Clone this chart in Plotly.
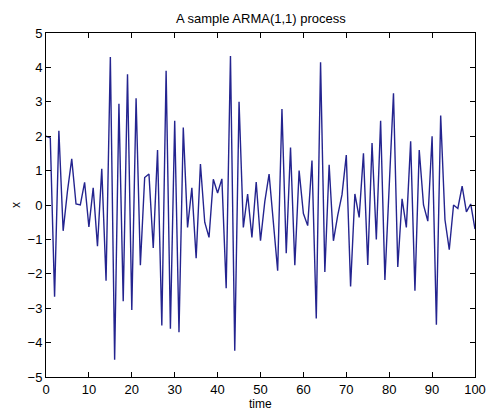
import plotly.graph_objects as go

time = list(range(0, 101))
x_values = [
    2.0, 1.95, -2.67, 2.16, -0.75, 0.4, 1.34, 0.03, 0.0, 0.66,
    -0.64, 0.5, -1.2, 1.05, -2.2, 4.3, -4.5, 2.94, -2.8, 3.8,
    -3.05, 3.1, -1.75, 0.8, 0.9, -1.25, 1.6, -3.5, 3.9, -3.6,
    2.45, -3.7, 2.25, -0.65, 0.5, -1.55, 1.19, -0.5, -0.94, 0.75,
    0.35, 0.76, -2.42, 4.33, -4.24, 3.0, -0.65, 0.32, -0.94, 0.67,
    -1.04, 0.1, 0.9, -0.6, -1.91, 2.79, -1.4, 1.67, -1.75, 1.0,
    -0.25, -0.6, 1.29, -3.3, 4.15, -1.95, 1.17, -1.04, -0.3, 0.3,
    1.45, -2.37, 0.32, -0.36, 1.5, -1.74, 1.8, -1.0, 2.45, -2.18,
    0.6, 3.25, -1.8, 0.18, -0.65, 1.85, -2.49, 1.6, 0.0, -0.47,
    2.0, -3.48, 2.6, -0.43, -1.3, 0.0, -0.1, 0.55, -0.2, 0.03,
    -0.7,
]

x_ticks = list(range(0, 101, 10))
y_ticks = list(range(-5, 6))

title_text = "A sample ARMA(1,1) process"
xlabel_text = "time"
ylabel_text = "x"

font_family = "Liberation Sans, Arial, Helvetica, sans-serif"

fig = go.Figure()
fig.add_trace(go.Scatter(
    x=time, y=x_values, mode="lines",
    line=dict(color="#24248f", width=1.4),
    hoverinfo="skip", showlegend=False,
))

W, H = 486, 411
L, R, T, B = 46, 11, 33, 34
plot_h = H - T - B
plot_w = W - L - R

axis_common = dict(
    showline=True, linecolor="black", linewidth=1, mirror="ticks",
    ticks="inside", ticklen=5, tickcolor="black", tickwidth=1,
    showgrid=False, zeroline=False, automargin=False,
    tickfont=dict(family=font_family, size=13, color="black"),
)

fig.update_layout(
    width=W, height=H,
    margin=dict(l=L, r=R, t=T, b=B, pad=0),
    paper_bgcolor="white", plot_bgcolor="white",
    font=dict(family=font_family, color="black"),
    xaxis=dict(range=[0, 100], tickvals=x_ticks, **axis_common),
    yaxis=dict(range=[-5, 5], tickvals=y_ticks, **axis_common),
    annotations=[
        dict(text=title_text, xref="paper", yref="paper",
             x=0.5, y=1 + 14 / plot_h, xanchor="center", yanchor="middle",
             showarrow=False, font=dict(size=13, color="black", family=font_family)),
        dict(text=xlabel_text, xref="paper", yref="paper",
             x=0.5, y=-27 / plot_h, xanchor="center", yanchor="middle",
             showarrow=False, font=dict(size=12, color="black", family=font_family)),
        dict(text=ylabel_text, xref="paper", yref="paper",
             x=-30 / plot_w, y=0.5, xanchor="center", yanchor="middle",
             textangle=-90, showarrow=False,
             font=dict(size=12, color="black", family=font_family)),
    ],
)

fig.write_html("out.html")
